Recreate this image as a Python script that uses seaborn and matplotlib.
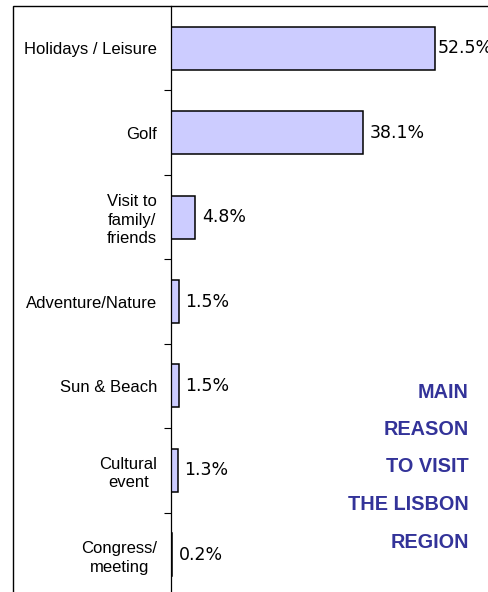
import pandas as pd
import matplotlib.pyplot as plt
import matplotlib.patches as mpatches
import seaborn as sns

# Datos
categorias = ["Holidays / Leisure", "Golf", "Visit to\nfamily/\nfriends",
              "Adventure/Nature", "Sun & Beach", "Cultural\nevent",
              "Congress/\nmeeting"]
porcentajes = [52.5, 38.1, 4.8, 1.5, 1.5, 1.3, 0.2]
titulo = ["MAIN", "REASON", "TO VISIT", "THE LISBON", "REGION"]

df = pd.DataFrame({"motivo": categorias, "pct": porcentajes})

sns.set_theme(style="white")
plt.rcParams['font.family'] = ['Liberation Sans', 'DejaVu Sans']

fig = plt.figure(figsize=(4.89, 5.92), dpi=100)
W, H = 489, 592
ax = fig.add_axes([171 / W, -5 / H, 1 - 171 / W, (597 - 6) / H])

sns.barplot(data=df, x="pct", y="motivo", orient="h", ax=ax,
            color="#CCCCFF", edgecolor="black", linewidth=1.1,
            width=0.51, saturation=1)

ax.set_xlim(0, 63.2)
ax.set_ylim(6.5, -0.5)
ax.set_xlabel("")
ax.set_ylabel("")
ax.set_xticks([])
for lado in ["top", "right", "bottom"]:
    ax.spines[lado].set_visible(False)
ax.spines["left"].set_color("black")
ax.spines["left"].set_linewidth(0.9)

# etiquetas de categoría
ax.tick_params(axis="y", which="major", length=0, pad=10)
for t in ax.get_yticklabels():
    t.set_fontsize(12)
    t.set_color("black")
    t.set_multialignment("center")
    t.set_linespacing(1.3)

# ticks entre categorías
ax.set_yticks([i + 0.5 for i in range(len(categorias) - 1)], minor=True)
ax.tick_params(axis="y", which="minor", length=5, width=0.8,
               color="black", direction="out", left=True)

# valores
textos = ax.bar_label(ax.containers[0], labels=[f"{v:.1f}%" for v in porcentajes],
                      padding=5, fontsize=12.5, family="DejaVu Sans", color="black")
textos[0].xyann = (1.5, 0)

# marco exterior
fig.patches.append(mpatches.Rectangle((13 / W, -0.1), 1.2, 1 - 6 / H + 0.1,
                                      transform=fig.transFigure, fill=False,
                                      edgecolor="black", linewidth=1.0))

# título lateral
for i, linea in enumerate(titulo):
    fig.text(469 / W, 1 - (392 + 37.5 * i) / H, linea, ha="right", va="center",
             fontsize=14.3, fontweight="bold", color="#333399")

plt.savefig("out.png", dpi=100)
